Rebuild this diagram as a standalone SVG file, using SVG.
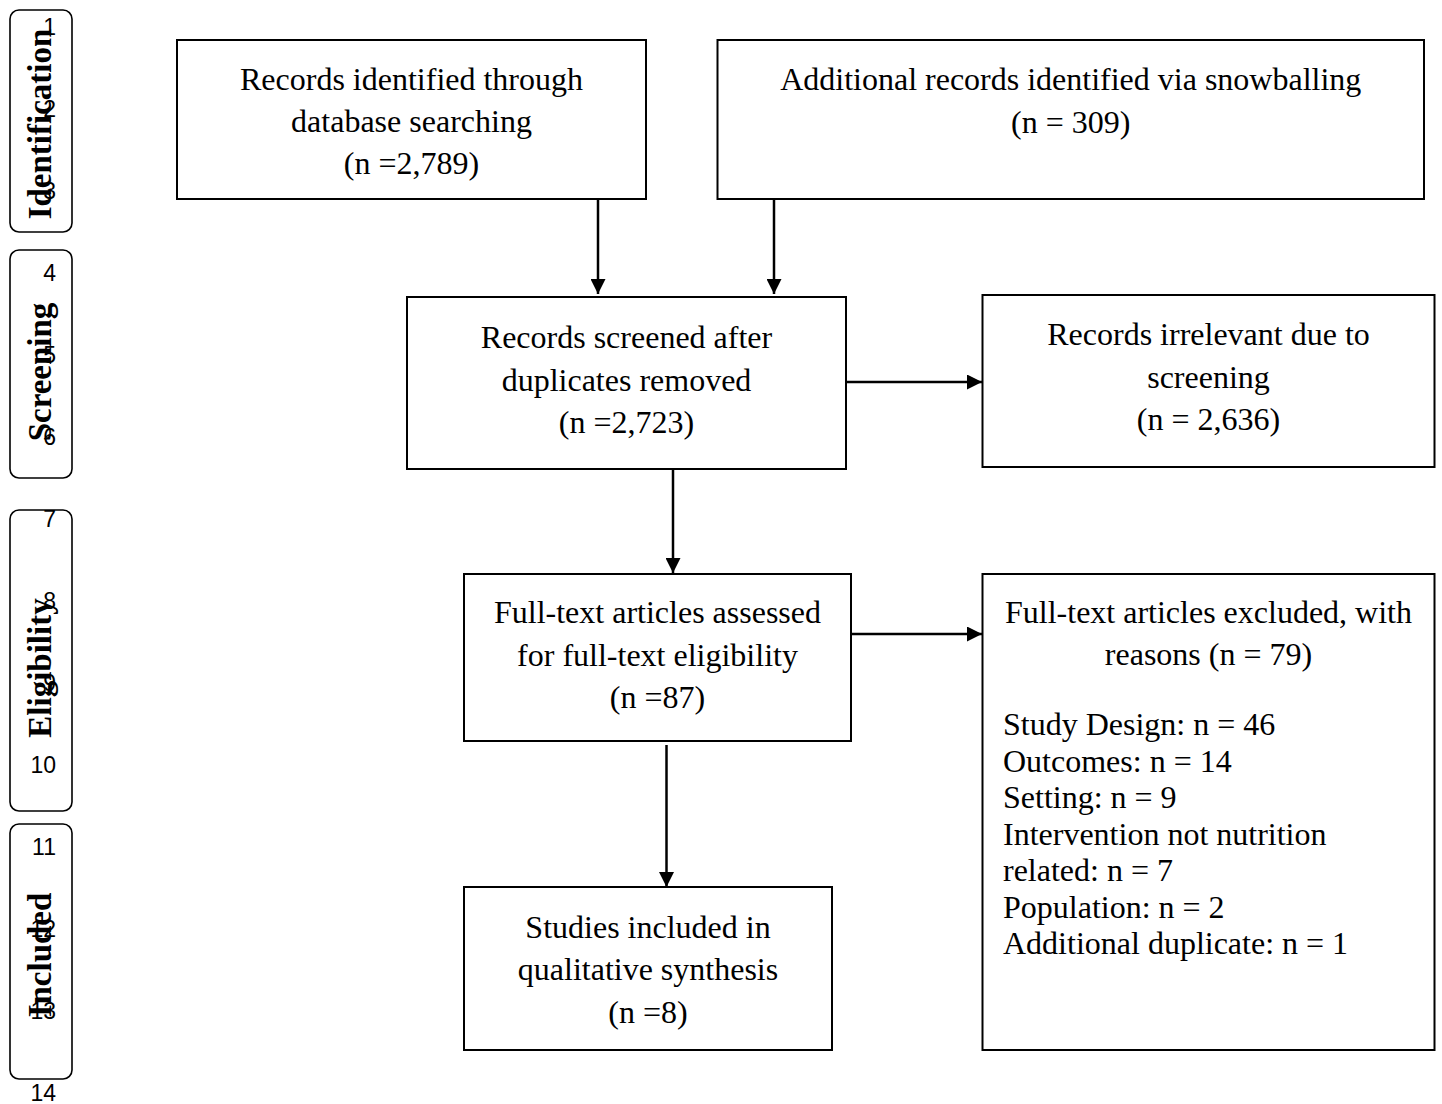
<svg xmlns="http://www.w3.org/2000/svg" width="1442" height="1104" viewBox="0 0 1442 1104">
<defs>
<style>
.box{fill:#fff;stroke:#000;stroke-width:2}
.side{fill:none;stroke:#000;stroke-width:1.6}
.t{font-family:"Liberation Serif","Times New Roman",serif;font-size:32px;fill:#000}
.c{text-anchor:middle}
.lab{font-family:"Liberation Serif","Times New Roman",serif;font-size:33px;font-weight:bold;fill:#000;text-anchor:middle}
.num{font-family:"Liberation Sans",Arial,sans-serif;font-size:23px;fill:#000;text-anchor:end}
.con{stroke:#000;stroke-width:2.5;fill:none}
</style>
<marker id="ah" viewBox="0 0 10 10" refX="10" refY="5" markerWidth="6" markerHeight="6" markerUnits="strokeWidth" orient="auto">
<path d="M0,0 L10,5 L0,10 z" fill="#000"/>
</marker>
</defs>
<rect width="1442" height="1104" fill="#fff"/>

<g id="line-numbers">
<text class="num" x="56" y="35">1</text>
<text class="num" x="56" y="117">2</text>
<text class="num" x="56" y="199">3</text>
<text class="num" x="56" y="281">4</text>
<text class="num" x="56" y="363">5</text>
<text class="num" x="56" y="445">6</text>
<text class="num" x="56" y="527">7</text>
<text class="num" x="56" y="609">8</text>
<text class="num" x="56" y="691">9</text>
<text class="num" x="56" y="773">10</text>
<text class="num" x="56" y="855">11</text>
<text class="num" x="56" y="937">12</text>
<text class="num" x="56" y="1019">13</text>
<text class="num" x="56" y="1101">14</text>
</g>

<g id="stage-identification">
<rect class="side" x="10" y="10" width="62" height="222" rx="9"/>
<text class="lab" transform="translate(51,124) rotate(-90)">Identification</text>
</g>
<g id="stage-screening">
<rect class="side" x="10" y="250" width="62" height="228" rx="9"/>
<text class="lab" transform="translate(51,372) rotate(-90)">Screening</text>
</g>
<g id="stage-eligibility">
<rect class="side" x="10" y="510" width="62" height="301" rx="9"/>
<text class="lab" transform="translate(51,668) rotate(-90)">Eligibility</text>
</g>
<g id="stage-included">
<rect class="side" x="10" y="824" width="62" height="255" rx="9"/>
<text class="lab" transform="translate(51,955) rotate(-90)">Included</text>
</g>

<g id="connectors">
<line class="con" x1="598" y1="199" x2="598" y2="294" marker-end="url(#ah)"/>
<line class="con" x1="774" y1="199" x2="774" y2="294" marker-end="url(#ah)"/>
<line class="con" x1="847" y1="382" x2="982" y2="382" marker-end="url(#ah)"/>
<line class="con" x1="673" y1="469" x2="673" y2="573" marker-end="url(#ah)"/>
<line class="con" x1="851" y1="634" x2="982" y2="634" marker-end="url(#ah)"/>
<line class="con" x1="666.5" y1="745" x2="666.5" y2="887" marker-end="url(#ah)"/>
</g>

<g id="node-database">
<rect class="box" x="177" y="40" width="469" height="159"/>
<text class="t c" x="411.5" y="90">Records identified through</text>
<text class="t c" x="411.5" y="132">database searching</text>
<text class="t c" x="411.5" y="174">(n =2,789)</text>
</g>
<g id="node-snowballing">
<rect class="box" x="717.5" y="40" width="706.5" height="159"/>
<text class="t c" x="1070.75" y="90">Additional records identified via snowballing</text>
<text class="t c" x="1070.75" y="133">(n = 309)</text>
</g>
<g id="node-screened">
<rect class="box" x="407" y="297" width="439" height="172"/>
<text class="t c" x="626.5" y="348">Records screened after</text>
<text class="t c" x="626.5" y="391">duplicates removed</text>
<text class="t c" x="626.5" y="433">(n =2,723)</text>
</g>
<g id="node-irrelevant">
<rect class="box" x="982.5" y="295" width="452" height="172"/>
<text class="t c" x="1208.5" y="345">Records irrelevant due to</text>
<text class="t c" x="1208.5" y="388">screening</text>
<text class="t c" x="1208.5" y="430">(n = 2,636)</text>
</g>
<g id="node-fulltext">
<rect class="box" x="464" y="574" width="387" height="167"/>
<text class="t c" x="657.5" y="623">Full-text articles assessed</text>
<text class="t c" x="657.5" y="666">for full-text eligibility</text>
<text class="t c" x="657.5" y="708">(n =87)</text>
</g>
<g id="node-excluded">
<rect class="box" x="982.5" y="574" width="452" height="476"/>
<text class="t c" x="1208.5" y="623">Full-text articles excluded, with</text>
<text class="t c" x="1208.5" y="665">reasons (n = 79)</text>
<text class="t" x="1003" y="735">Study Design: n = 46</text>
<text class="t" x="1003" y="772">Outcomes: n = 14</text>
<text class="t" x="1003" y="808">Setting: n = 9</text>
<text class="t" x="1003" y="845">Intervention not nutrition</text>
<text class="t" x="1003" y="881">related: n = 7</text>
<text class="t" x="1003" y="918">Population: n = 2</text>
<text class="t" x="1003" y="954">Additional duplicate: n = 1</text>
</g>
<g id="node-included">
<rect class="box" x="464" y="887" width="368" height="163"/>
<text class="t c" x="648" y="938">Studies included in</text>
<text class="t c" x="648" y="980">qualitative synthesis</text>
<text class="t c" x="648" y="1023">(n =8)</text>
</g>
</svg>
